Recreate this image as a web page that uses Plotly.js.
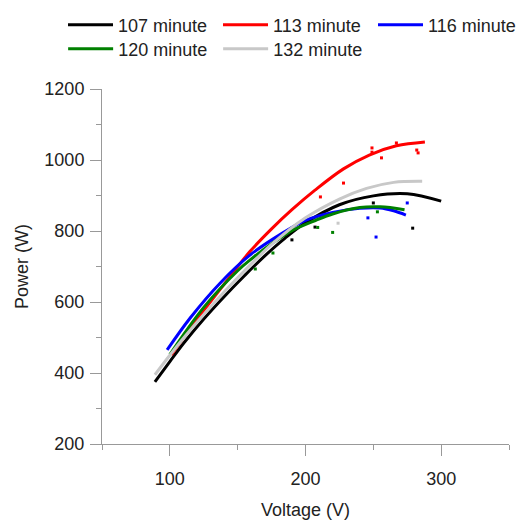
<!DOCTYPE html>
<html><head><meta charset="utf-8">
<script src="https://cdn.plot.ly/plotly-3.0.1.min.js"></script>
<style>html,body{margin:0;padding:0;background:#fff}#chart{width:520px;height:520px}</style>
</head><body><div id="chart"></div>
<script>
// Fitted curves (Voltage V, Power W)
const volt107 = [89,100,110,125,140,155,170,185,200,225,250,275,300];
const pow107  = [375,432,483,552,615,674,730,780,823,874,899,905,884];
const volt113 = [101,120,140,159,175,190,207,228,247,267,288];
const pow113  = [451,551,650,742,806,860,915,975,1014,1040,1051];
const volt116 = [98,115,137,159,183,200,220,240,255,265,274];
const pow116  = [465,555,653,732,794,830,852,864,865,857,845];
const volt120 = [100,125,150,159,175,191,208,220,240,255,273];
const pow120  = [452,585,688,718,764,803,831,848,866,868,860];
const volt132 = [89,100,110,125,140,155,175,200,225,245,265,286];
const pow132  = [395,450,498,565,628,688,762,837,890,920,937,940];
// Scattered measurement points
const ptV107 = [190,207,250,279];
const ptP107 = [775,811,879,808];
const ptV113 = [211,228,249,249,256,267,282,283];
const ptP113 = [896,935,1034,1022,1006,1048,1028,1020];
const ptV116 = [246,252,275];
const ptP116 = [837,783,879];
const ptV120 = [163,176,209,220,253];
const ptP120 = [693,738,810,796,854];
const ptV132 = [224];
const ptP132 = [822];
const names = ['107 minute','113 minute','116 minute','120 minute','132 minute'];

const colors = ['#000000','#ff0000','#0000ff','#008000','#c8c8c8'];
const curves = [[volt107,pow107],[volt113,pow113],[volt116,pow116],[volt120,pow120],[volt132,pow132]];
const pts = [[ptV107,ptP107],[ptV113,ptP113],[ptV116,ptP116],[ptV120,ptP120],[ptV132,ptP132]];
const legendOf = ['legend','legend','legend','legend2','legend2'];

const data = [];
curves.forEach((c,i)=>{
  data.push({x:c[0], y:c[1], type:'scatter', mode:'lines', name:names[i],
    line:{color:colors[i], width:3, shape:'spline'}, legend:legendOf[i]});
});
pts.forEach((p,i)=>{
  data.push({x:p[0], y:p[1], type:'scatter', mode:'markers', showlegend:false,
    marker:{color:colors[i], size:3, symbol:'square'}, hoverinfo:'skip'});
});

const font = {family:'Arial, "Liberation Sans", sans-serif', size:18, color:'#222'};
const axisCommon = {showline:true, linecolor:'#999', linewidth:1, ticks:'outside', ticklen:11,
  tickcolor:'#999', tickwidth:1, showgrid:false, zeroline:false, tickfont:font};
const legCommon = {orientation:'h', entrywidth:95, entrywidthmode:'pixels', itemwidth:45,
  font:font, bgcolor:'rgba(0,0,0,0)', xanchor:'left', yanchor:'middle', tracegroupgap:0};

const layout = {
  width:520, height:520,
  margin:{l:102, r:11, t:89, b:76, autoexpand:false},
  paper_bgcolor:'#fff', plot_bgcolor:'#fff',
  font:font,
  showlegend:true,
  legend:Object.assign({}, legCommon, {x:-0.0958, y:1+64/355}),
  legend2:Object.assign({}, legCommon, {x:-0.0955, y:1+40/355}),
  xaxis:Object.assign({}, axisCommon, {range:[50,350], tick0:0, dtick:100, ticklabelstandoff:7,
    minor:{dtick:50, tick0:0, ticks:'outside', ticklen:5, tickcolor:'#999'},
    title:{text:'Voltage (V)', font:font, standoff:15}}),
  yaxis:Object.assign({}, axisCommon, {range:[200,1200], tick0:0, dtick:200, ticklabelstandoff:2,
    minor:{dtick:100, tick0:0, ticks:'outside', ticklen:5, tickcolor:'#999'},
    title:{text:'Power (W)', font:font, standoff:11}})
};
Plotly.newPlot('chart', data, layout, {staticPlot:true, displayModeBar:false});
</script></body></html>
